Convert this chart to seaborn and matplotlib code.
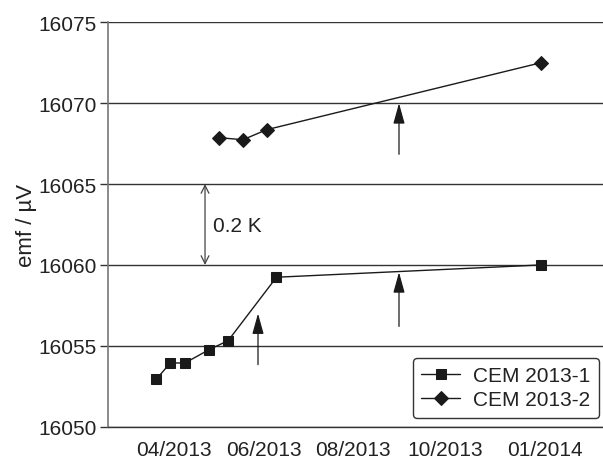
import matplotlib
matplotlib.use("Agg")
import matplotlib.pyplot as plt
import seaborn as sns
import pandas as pd

# data (x in months of 2013, decimal)
cem1_x = [3.60, 3.92, 4.24, 4.78, 5.21, 6.29, 12.20]
cem1_y = [16052.92, 16053.95, 16053.93, 16054.76, 16055.32, 16059.24, 16060.00]
cem2_x = [5.00, 5.54, 6.07, 12.20]
cem2_y = [16067.87, 16067.74, 16068.36, 16072.50]
series_names = ["CEM 2013-1", "CEM 2013-2"]
tick_pos = [4, 6, 8, 10.05, 12.28]
tick_labels = ["04/2013", "06/2013", "08/2013", "10/2013", "01/2014"]
y_ticks = [16050, 16055, 16060, 16065, 16070, 16075]

df = pd.concat([
    pd.DataFrame({"x": cem1_x, "y": cem1_y, "series": series_names[0]}),
    pd.DataFrame({"x": cem2_x, "y": cem2_y, "series": series_names[1]}),
])

sns.set_theme(style="white")
plt.rcParams["font.family"] = ["Liberation Sans", "DejaVu Sans"]

FS = 15
fig = plt.figure(figsize=(6.03, 4.64), dpi=100)
ax = fig.add_axes([0.1783, 0.0782, 0.8217, 0.8716])

dark = "#1a1a1a"
txt = "#222222"
sns.lineplot(data=df, x="x", y="y", hue="series", style="series",
             markers={"CEM 2013-1": "s", "CEM 2013-2": "D"}, dashes=False,
             palette={"CEM 2013-1": dark, "CEM 2013-2": dark},
             markersize=6.8, linewidth=1.0, markeredgecolor=dark,
             ax=ax, legend=True)

ax.set_xlim(2.514, 13.587)
ax.set_ylim(16050, 16075)
ax.set_yticks(y_ticks)
ax.set_xticks(tick_pos)
ax.set_xticklabels(tick_labels)
ax.grid(axis="y", color="#333333", linewidth=1.0)
ax.grid(axis="x", visible=False)
for s in ["top", "right"]:
    ax.spines[s].set_visible(False)
ax.spines["left"].set_color("#777777")
ax.spines["left"].set_linewidth(1.2)
ax.spines["bottom"].set_color("#333333")
ax.spines["bottom"].set_linewidth(1.0)
ax.tick_params(axis="y", length=6, width=1.0, color="#333333", labelsize=FS,
               labelcolor=txt, pad=2, left=True)
ax.tick_params(axis="x", length=0, labelsize=FS, labelcolor=txt, pad=9.5)
ax.set_xlabel("")
ax.set_ylabel("emf / µV", fontsize=16, color=txt, labelpad=1)

# annotations
ax.annotate("", xy=(4.693, 16065), xytext=(4.693, 16060),
            arrowprops=dict(arrowstyle="<->", color="#444444", lw=0.9,
                            mutation_scale=14, shrinkA=0, shrinkB=0))
ax.text(4.87, 16062.45, "0.2 K", fontsize=FS, color=txt, va="center", ha="left")
for (ax_x, y0, y1) in [(5.877, 16053.84, 16057.0), (9.028, 16056.2, 16059.55),
                       (9.028, 16066.84, 16070.0)]:
    ax.annotate("", xy=(ax_x, y1), xytext=(ax_x, y0),
                arrowprops=dict(arrowstyle="-|>,head_length=0.9,head_width=0.25",
                                color=dark, lw=0.9, mutation_scale=14,
                                shrinkA=0, shrinkB=0))

handles, labels = ax.get_legend_handles_labels()
leg = ax.legend(handles, labels, loc="lower right", bbox_to_anchor=(0.992, 0.022),
                borderaxespad=0, fontsize=FS, frameon=True, fancybox=True,
                edgecolor="#333333", handlelength=1.85, labelspacing=0.25,
                borderpad=0.4, handletextpad=0.65, title=None)
leg.get_frame().set_linewidth(1.0)
leg.get_frame().set_alpha(1)
for t in leg.get_texts():
    t.set_color(txt)

fig.savefig("out.png", dpi=100)
